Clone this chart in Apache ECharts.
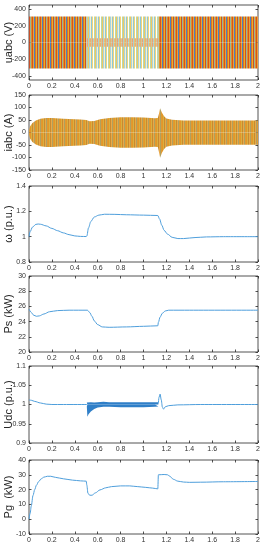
<!DOCTYPE html>
<html><head><meta charset="utf-8">
<script src="https://cdn.jsdelivr.net/npm/echarts@6/dist/echarts.min.js"></script>
<style>html,body{margin:0;padding:0;background:#fff}#c{width:265px;height:550px}</style>
</head><body><div id="c"></div>
<script>
// ---------- data ----------
const xTicks = [0, 0.2, 0.4, 0.6, 0.8, 1, 1.2, 1.4, 1.6, 1.8, 2];

// uabc: three-phase voltage envelope (V)
const uOuter1T = [0, 0.505];
const uMidT = [0.505, 1.13];
const uOuter2T = [1.13, 2];
const uAmp = [311, 311];
const uCoreAmp = [50, 50];
const uTicks = [-400, -200, 0, 200, 400];

// iabc: three-phase current envelope (A)
const iT =     [0, 0.01, 0.03, 0.06, 0.1, 0.15, 0.2, 0.3, 0.45, 0.5, 0.53, 0.57, 0.62, 0.7, 0.8, 0.9, 1.0, 1.1, 1.125, 1.135, 1.145, 1.16, 1.18, 1.2, 1.25, 1.35, 1.5, 2];
const iUpper = [8, 25, 38, 48, 55, 58, 58, 55, 52, 50, 45, 46, 53, 58, 61, 61, 60, 57, 58, 75, 97, 80, 65, 56, 51, 48, 48, 48];
const iLower = [-8, -25, -38, -48, -55, -58, -58, -55, -52, -50, -45, -46, -53, -58, -61, -61, -60, -57, -58, -78, -101, -82, -66, -57, -52, -49, -49, -49];
const iTicks = [-150, -100, -50, 0, 50, 100, 150];

// omega (p.u.)
const wT = [0, 0.01, 0.03, 0.06, 0.08, 0.1, 0.15, 0.2, 0.25, 0.3, 0.35, 0.4, 0.45, 0.5, 0.505, 0.52, 0.54, 0.57, 0.61, 0.66, 0.75, 0.85, 1.0, 1.125, 1.14, 1.16, 1.18, 1.21, 1.25, 1.3, 1.35, 1.45, 1.55, 1.7, 2];
const wV = [1.0, 1.04, 1.075, 1.097, 1.1, 1.098, 1.085, 1.065, 1.047, 1.03, 1.016, 1.006, 1.002, 1.001, 1.005, 1.07, 1.12, 1.155, 1.17, 1.177, 1.176, 1.173, 1.17, 1.167, 1.14, 1.09, 1.05, 1.02, 0.995, 0.985, 0.985, 0.993, 0.998, 1.0, 1.0];
const wTicks = [0.8, 1, 1.2, 1.4];

// Ps (kW)
const psT = [0, 0.02, 0.04, 0.065, 0.09, 0.13, 0.18, 0.25, 0.35, 0.51, 0.53, 0.55, 0.57, 0.6, 0.64, 0.7, 0.85, 1.0, 1.125, 1.13, 1.145, 1.165, 1.19, 1.22, 1.4, 2];
const psV = [25.65, 25.2, 24.85, 24.7, 24.75, 25.0, 25.3, 25.45, 25.5, 25.5, 25.2, 24.7, 24.1, 23.6, 23.3, 23.25, 23.3, 23.38, 23.45, 23.9, 24.6, 25.1, 25.4, 25.5, 25.5, 25.5];
const psTicks = [20, 22, 24, 26, 28, 30];

// Udc (p.u.)
const udcT1 = [0, 0.02, 0.05, 0.1, 0.15, 0.2, 0.3, 0.505];
const udcV1 = [1.012, 1.011, 1.008, 1.004, 1.001, 1.0, 1.0, 1.0];
const udcBandT = [0.505, 0.51, 0.52, 0.54, 0.57, 0.6, 0.65, 0.7, 0.8, 0.9, 1.0, 1.1, 1.13];
const udcBandUp = [1.005, 1.008, 1.007, 1.006, 1.005, 1.006, 1.007, 1.006, 1.006, 1.006, 1.006, 1.006, 1.006];
const udcBandLo = [0.995, 0.968, 0.975, 0.982, 0.988, 0.992, 0.994, 0.994, 0.993, 0.993, 0.993, 0.994, 0.995];
const udcT2 = [1.13, 1.135, 1.145, 1.155, 1.165, 1.175, 1.19, 1.22, 1.3, 1.5, 2];
const udcV2 = [1.003, 1.018, 1.027, 1.012, 0.993, 0.988, 0.994, 0.997, 0.999, 1.0, 1.0];
const udcTicks = [0.9, 0.95, 1, 1.05, 1.1];

// Pg (kW)
const pgT = [0, 0.01, 0.02, 0.035, 0.05, 0.065, 0.085, 0.107, 0.13, 0.16, 0.19, 0.23, 0.3, 0.38, 0.45, 0.5, 0.505, 0.515, 0.53, 0.55, 0.58, 0.62, 0.67, 0.72, 0.8, 0.88, 0.95, 1.02, 1.08, 1.125, 1.13, 1.18, 1.21, 1.23, 1.26, 1.3, 1.35, 1.4, 1.5, 1.7, 2];
const pgV = [0, 4, 9, 16, 20, 23, 25.5, 27.3, 28.4, 29, 29, 28.3, 27.3, 26.4, 25.9, 25.7, 23, 17.5, 16.2, 16.2, 17.8, 19.8, 21.2, 22, 22.5, 22.5, 22, 21.5, 21, 20.5, 30, 30.2, 30, 29, 27, 25.7, 25.1, 24.9, 25, 25.3, 25.5];
const pgTicks = [-10, 0, 10, 20, 30, 40];

// ---------- chart ----------
const zip = (t, v) => t.map((x, i) => [x, v[i]]);
function pattern(colors) {
  const c = document.createElement('canvas');
  c.width = colors.length; c.height = 1;
  const g = c.getContext('2d');
  colors.forEach((col, i) => { g.fillStyle = col; g.fillRect(i, 0, 1, 1); });
  return { image: c, repeat: 'repeat' };
}
const patOuter = pattern(['#d95319', '#e8a23a', '#4a82bd', '#d9702a', '#edb120', '#c8502a', '#9cb49a', '#e0902a']);
const patMid = pattern(['#8fc8d8', '#f2d478', '#ffffff', '#b8d8a8', '#f0c860', '#a8d4e0', '#fbf0c8']);
const patCore = pattern(['#e8b070', '#c8c8a0', '#f0a070', '#a8d0d0', '#e8c070']);
const patCur = pattern(['#e3962a', '#d9b040', '#c88a30', '#e8a848', '#b0a060', '#e09a30']);

const LINE = '#4f9fdc';
const FONT = 'Liberation Sans, Arial, sans-serif';
const tops = [5, 95, 186, 276, 366, 460];
const heights = [75, 75, 76, 76, 77, 74];
const panels = [
  { name: 'uabc (V)', min: -450, max: 450, ticks: uTicks },
  { name: 'iabc (A)', min: -150, max: 150, ticks: iTicks },
  { name: 'ω (p.u.)', min: 0.8, max: 1.4, ticks: wTicks },
  { name: 'Ps (kW)', min: 20, max: 30, ticks: psTicks },
  { name: 'Udc (p.u.)', min: 0.9, max: 1.1, ticks: udcTicks },
  { name: 'Pg  (kW)', min: -10, max: 40, ticks: pgTicks }
];
const grid = [], xAxis = [], yAxis = [];
const tickStyle = { inside: true, length: 2.5, lineStyle: { color: '#262626', width: 0.8 } };
const labelStyle = { fontSize: 7, color: '#333', fontFamily: FONT };
const noLine = { show: false, onZero: false };
panels.forEach((p, k) => {
  grid.push({ left: 29, right: 7, top: tops[k], height: heights[k], show: true, borderColor: '#262626', borderWidth: 0.8,
    containLabel: false, outerBoundsMode: 'none' });
  const xa = { gridIndex: k, type: 'value', min: 0, max: 2, interval: 0.2, axisLine: noLine, splitLine: { show: false } };
  xAxis.push(Object.assign({}, xa, { position: 'bottom', axisTick: Object.assign({ customValues: xTicks }, tickStyle), axisLabel: Object.assign({ margin: 3, customValues: xTicks }, labelStyle) }));
  xAxis.push(Object.assign({}, xa, { position: 'top', axisTick: Object.assign({ customValues: xTicks }, tickStyle), axisLabel: { show: false } }));
  const ya = { gridIndex: k, type: 'value', min: p.min, max: p.max, axisLine: noLine, splitLine: { show: false } };
  yAxis.push(Object.assign({}, ya, { position: 'left', axisTick: Object.assign({ customValues: p.ticks }, tickStyle),
    axisLabel: Object.assign({ margin: 3, customValues: p.ticks }, labelStyle),
    name: p.name, nameLocation: 'middle', nameRotate: 90, nameGap: 15, nameMoveOverlap: false,
    nameTextStyle: { fontSize: 11, color: '#262626', fontFamily: FONT } }));
  yAxis.push(Object.assign({}, ya, { position: 'right', axisTick: Object.assign({ customValues: p.ticks }, tickStyle), axisLabel: { show: false } }));
});
function ax(k) { return { xAxisIndex: 2 * k, yAxisIndex: 2 * k }; }
function band(k, t, vals, fill, origin) {
  return Object.assign(ax(k), { type: 'line', data: zip(t, vals), symbol: 'none', lineStyle: { width: 0 },
    areaStyle: { color: fill, opacity: 1, origin: origin }, silent: true });
}
function curve(k, t, v, extra) {
  return Object.assign(ax(k), { type: 'line', data: zip(t, v), symbol: 'none', smooth: 0.3, smoothMonotone: 'x',
    lineStyle: { color: LINE, width: 1 } }, extra || {});
}
const neg = a => a.map(v => -v);
const series = [
  band(0, uOuter1T, uAmp, patOuter, 0), band(0, uOuter1T, neg(uAmp), patOuter, 0),
  band(0, uMidT, uAmp, patMid, 0), band(0, uMidT, neg(uAmp), patMid, 0),
  band(0, uMidT, uCoreAmp, patCore, 0), band(0, uMidT, neg(uCoreAmp), patCore, 0),
  band(0, uOuter2T, uAmp, patOuter, 0), band(0, uOuter2T, neg(uAmp), patOuter, 0),
  band(1, iT, iUpper, patCur, 0), band(1, iT, iLower, patCur, 0),
  curve(2, wT, wV),
  curve(3, psT, psV),
  curve(4, udcT1, udcV1),
  band(4, udcBandT, udcBandUp, '#2f7fc8', 1), band(4, udcBandT, udcBandLo, '#2f7fc8', 1),
  curve(4, udcT2, udcV2),
  curve(5, pgT, pgV)
];
const chart = echarts.init(document.getElementById('c'), null, { renderer: 'canvas' });
chart.setOption({ animation: false, backgroundColor: '#fff', grid, xAxis, yAxis, series });
</script></body></html>
